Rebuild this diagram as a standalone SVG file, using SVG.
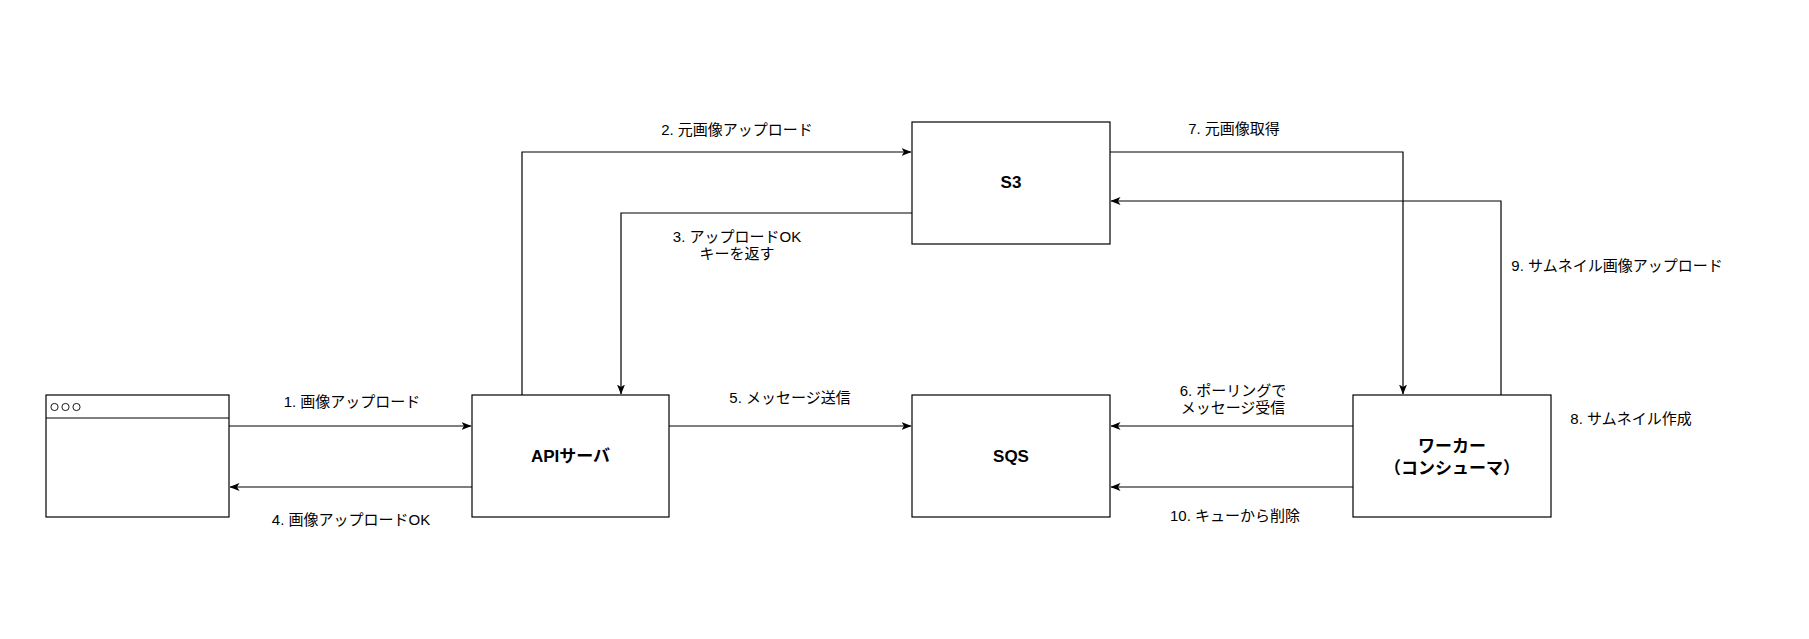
<svg xmlns="http://www.w3.org/2000/svg" width="1809" height="639" viewBox="0 0 1809 639">
<style>
.box{fill:#fff;stroke:#000;stroke-width:1.2}
.edge{fill:none;stroke:#000;stroke-width:1.2}
.lbl{font-family:"Liberation Sans","Noto Sans CJK JP",sans-serif;font-size:15px;fill:#000;text-anchor:middle}
.nl{font-family:"Liberation Sans","Noto Sans CJK JP",sans-serif;font-size:17px;font-weight:bold;fill:#000;text-anchor:middle}
</style>
<defs>
<marker id="arr" viewBox="0 0 10 8" refX="9.5" refY="4" markerWidth="10" markerHeight="8" markerUnits="userSpaceOnUse" orient="auto">
<path d="M0,0 L10,4 L0,8 L2.5,4 Z" fill="#000"/>
</marker>
</defs>
<rect width="1809" height="639" fill="#fff"/>
<g id="connectors">
<path class="edge" marker-end="url(#arr)" d="M229,426 L471,426"/>
<path class="edge" marker-end="url(#arr)" d="M472,487 L230,487"/>
<path class="edge" marker-end="url(#arr)" d="M522,395 L522,152 L911,152"/>
<path class="edge" marker-end="url(#arr)" d="M912,213 L621,213 L621,394"/>
<path class="edge" marker-end="url(#arr)" d="M669,426 L911,426"/>
<path class="edge" marker-end="url(#arr)" d="M1353,426 L1111,426"/>
<path class="edge" marker-end="url(#arr)" d="M1353,487 L1111,487"/>
<path class="edge" marker-end="url(#arr)" d="M1110,152 L1403,152 L1403,394"/>
<path class="edge" marker-end="url(#arr)" d="M1501,395 L1501,201 L1111,201"/>
<text class="lbl" x="352" y="407">1. 画像アップロード</text>
<text class="lbl" x="351" y="525">4. 画像アップロードOK</text>
<text class="lbl" x="737" y="135">2. 元画像アップロード</text>
<text class="lbl" x="737" y="242">3. アップロードOK</text>
<text class="lbl" x="737" y="259">キーを返す</text>
<text class="lbl" x="790" y="403">5. メッセージ送信</text>
<text class="lbl" x="1233" y="396">6. ポーリングで</text>
<text class="lbl" x="1233" y="413">メッセージ受信</text>
<text class="lbl" x="1234" y="134">7. 元画像取得</text>
<text class="lbl" x="1631" y="424">8. サムネイル作成</text>
<text class="lbl" x="1617" y="271">9. サムネイル画像アップロード</text>
<text class="lbl" x="1235" y="521">10. キューから削除</text>
</g>
<g id="browser">
<rect class="box" x="46" y="395" width="183" height="122"/>
<line class="edge" x1="46" y1="418" x2="229" y2="418"/>
<circle cx="54.5" cy="407" r="3.6" fill="none" stroke="#000" stroke-width="0.9"/>
<circle cx="65.5" cy="407" r="3.6" fill="none" stroke="#000" stroke-width="0.9"/>
<circle cx="76.5" cy="407" r="3.6" fill="none" stroke="#000" stroke-width="0.9"/>
</g>
<g id="api">
<rect class="box" x="472" y="395" width="197" height="122"/>
<text class="nl" x="570.5" y="462">APIサーバ</text>
</g>
<g id="s3">
<rect class="box" x="912" y="122" width="198" height="122"/>
<text class="nl" x="1011" y="188">S3</text>
</g>
<g id="sqs">
<rect class="box" x="912" y="395" width="198" height="122"/>
<text class="nl" x="1011" y="462">SQS</text>
</g>
<g id="worker">
<rect class="box" x="1353" y="395" width="198" height="122"/>
<text class="nl" x="1452" y="452">ワーカー</text>
<text class="nl" x="1452" y="474">（コンシューマ）</text>
</g>
</svg>
